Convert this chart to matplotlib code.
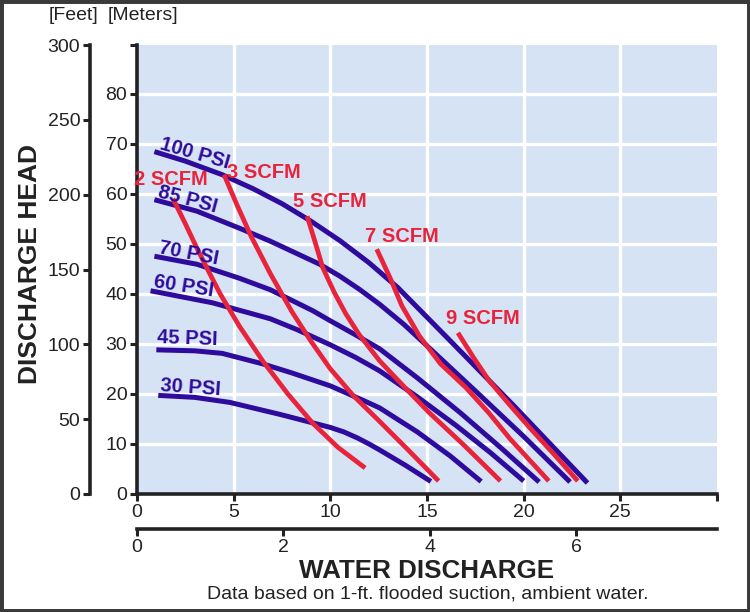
import matplotlib
matplotlib.use('Agg')
import matplotlib.pyplot as plt
from matplotlib.patches import Rectangle

plt.rcParams['font.family'] = ['Liberation Sans', 'DejaVu Sans']

BLUE = '#2e0b9c'
RED = '#e8243c'
BG = '#d6e3f4'
INK = '#222222'

# water discharge in GPM, discharge head in meters
# air inlet pressure curves
psi100_q = [0.9, 2.5, 4.4, 6.0, 7.5, 9.0, 10.5, 12.0, 13.5, 16.0, 19.5, 23.3]
psi100_h = [68.4, 66.5, 63.8, 61.0, 58.0, 54.5, 50.6, 46.2, 41.2, 31.4, 17.6, 2.2]
psi85_q = [0.9, 3.1, 5.3, 6.9, 9.45, 10.5, 11.5, 12.55, 13.8, 15.0, 17.5, 20.0, 22.4]
psi85_h = [58.8, 56.5, 53.1, 50.5, 45.9, 43.5, 40.9, 37.9, 33.9, 29.6, 20.6, 11.5, 2.4]
psi70_q = [0.9, 3.1, 5.3, 6.9, 9.1, 10.0, 11.3, 12.55, 14.5, 16.7, 18.8, 20.8]
psi70_h = [47.5, 45.9, 43.1, 40.8, 36.6, 34.6, 31.8, 29.0, 23.2, 16.3, 9.3, 2.4]
psi60_q = [0.7, 3.9, 6.9, 8.3, 10.0, 11.3, 12.55, 14.5, 16.5, 18.3, 20.0]
psi60_h = [40.6, 38.2, 35.0, 32.8, 29.8, 27.3, 24.6, 19.4, 13.7, 8.2, 2.6]
psi45_q = [1.0, 3.0, 4.4, 6.5, 8.0, 10.0, 11.7, 12.55, 14.5, 16.2, 17.8]
psi45_h = [28.8, 28.6, 28.1, 26.0, 24.2, 21.6, 18.7, 17.2, 12.4, 7.6, 2.5]
psi30_q = [1.1, 3.0, 4.8, 7.4, 10.0, 10.7, 11.4, 12.0, 12.55, 13.9, 15.2]
psi30_h = [19.7, 19.3, 18.3, 15.9, 13.3, 12.4, 11.2, 10.0, 8.8, 5.7, 2.5]

# air consumption curves
scfm2_q = [1.86, 2.5, 3.1, 3.7, 4.3, 5.3, 6.5, 7.8, 9.1, 10.4, 11.8]
scfm2_h = [59.0, 54.0, 49.1, 44.5, 40.0, 33.5, 26.6, 20.0, 14.1, 9.3, 5.2]
scfm3_q = [4.5, 5.2, 5.9, 6.9, 8.0, 9.0, 10.0, 11.2, 12.55, 14.0, 15.6]
scfm3_h = [63.8, 57.5, 51.5, 44.0, 36.5, 30.5, 25.0, 19.6, 14.5, 8.9, 2.6]
scfm5_q = [8.8, 9.2, 9.6, 10.2, 10.8, 11.5, 12.55, 13.8, 15.1, 16.9, 18.8]
scfm5_h = [55.5, 50.5, 45.3, 40.3, 36.0, 31.8, 26.6, 21.5, 16.3, 9.8, 2.6]
scfm7_q = [12.4, 13.1, 13.7, 14.6, 15.7, 17.0, 18.2, 19.3, 20.3, 21.3]
scfm7_h = [48.9, 43.1, 37.6, 31.6, 26.0, 21.3, 16.2, 11.0, 6.8, 2.6]
scfm9_q = [16.6, 17.4, 18.2, 19.3, 20.3, 21.6, 22.8]
scfm9_h = [32.2, 27.3, 22.7, 17.7, 13.3, 7.8, 2.6]

psi_names = ['100 PSI', '85 PSI', '70 PSI', '60 PSI', '45 PSI', '30 PSI']
scfm_names = ['2 SCFM', '3 SCFM', '5 SCFM', '7 SCFM', '9 SCFM']

gpm_ticks = [0, 5, 10, 15, 20, 25]
m3h_ticks = [0, 2, 4, 6]
meter_ticks = [0, 10, 20, 30, 40, 50, 60, 70, 80]
feet_ticks = [0, 50, 100, 150, 200, 250, 300]

HEAD_TOP = 89.7  # meters at top of chart = 300 ft on the chart's scale

fig = plt.figure(figsize=(7.5, 6.12), dpi=100)
ax = fig.add_axes([137/750, 1 - 494/612, 580/750, 449/612])
ax.set_facecolor(BG)
ax.set_xlim(0, 30)
ax.set_ylim(0, HEAD_TOP)

ax.set_xticks(gpm_ticks + [30])
ax.set_xticklabels([str(t) for t in gpm_ticks] + [''])
ax.set_yticks(meter_ticks + [HEAD_TOP])
ax.set_yticklabels([str(t) for t in meter_ticks] + [''])
for s in ['top', 'right']:
    ax.spines[s].set_visible(False)
for s in ['left', 'bottom']:
    ax.spines[s].set_color(INK)
    ax.spines[s].set_linewidth(2.6)
ax.tick_params(axis='both', direction='out', length=5, width=2.2, color=INK,
               labelsize=14, labelcolor=INK, pad=2)

# white grid
for g in [5, 10, 15, 20, 25]:
    ax.axvline(g, color='white', lw=2.4, zorder=1)
for g in meter_ticks[1:]:
    ax.axhline(g, color='white', lw=2.4, zorder=1)

# feet axis
feet = ax.secondary_yaxis(-47/580, functions=(lambda m: m*300/HEAD_TOP, lambda f: f*HEAD_TOP/300))
feet.set_yticks(feet_ticks)
feet.spines['left'].set_color(INK)
feet.spines['left'].set_linewidth(2.6)
feet.tick_params(direction='out', length=5, width=2.2, color=INK, labelsize=14, labelcolor=INK, pad=2)

# m3/h axis
m3h = ax.secondary_xaxis(-35/449, functions=(lambda q: q/3.785, lambda c: c*3.785))
m3h.set_xticks(m3h_ticks)
m3h.spines['bottom'].set_color(INK)
m3h.spines['bottom'].set_linewidth(2.6)
m3h.tick_params(direction='out', length=5, width=2.2, color=INK, labelsize=14, labelcolor=INK, pad=2)

psi_q = [psi100_q, psi85_q, psi70_q, psi60_q, psi45_q, psi30_q]
psi_h = [psi100_h, psi85_h, psi70_h, psi60_h, psi45_h, psi30_h]
for q, h in zip(psi_q, psi_h):
    ax.plot(q, h, color=BLUE, lw=3.6, solid_capstyle='butt', solid_joinstyle='round', zorder=3)

scfm_q = [scfm2_q, scfm3_q, scfm5_q, scfm7_q, scfm9_q]
scfm_h = [scfm2_h, scfm3_h, scfm5_h, scfm7_h, scfm9_h]
for q, h in zip(scfm_q, scfm_h):
    ax.plot(q, h, color=RED, lw=3.4, solid_capstyle='butt', solid_joinstyle='round', zorder=4)

psi_pos = [(3.0, 68.0, -16), (2.6, 58.8, -15), (2.7, 48.1, -11),
           (2.4, 41.4, -9), (2.6, 31.0, -2), (2.75, 21.3, -4)]
for name, (x, y, r) in zip(psi_names, psi_pos):
    ax.text(x, y, name, color=BLUE, fontsize=14.5, fontweight='bold', rotation=r,
            ha='center', va='center', rotation_mode='anchor', zorder=5)

scfm_pos = [(1.76, 62.8), (6.55, 64.2), (10.0, 58.4), (13.7, 51.5), (17.9, 35.0)]
for name, (x, y) in zip(scfm_names, scfm_pos):
    ax.text(x, y, name, color=RED, fontsize=14.5, fontweight='bold',
            ha='center', va='center', zorder=5)

fig.text(73/750, 1 - 16/612, '[Feet]', fontsize=14, color=INK, ha='center', va='center')
fig.text(143/750, 1 - 16/612, '[Meters]', fontsize=14, color=INK, ha='center', va='center')
fig.text(30/750, 1 - 264/612, 'DISCHARGE HEAD', fontsize=19, fontweight='bold', color=INK,
         rotation=90, ha='center', va='center')
fig.text(427/750, 1 - 571/612, 'WATER DISCHARGE', fontsize=18.7, fontweight='bold', color=INK,
         ha='center', va='center')
fig.text(428/750, 1 - 594/612, 'Data based on 1-ft. flooded suction, ambient water.',
         fontsize=14, color=INK, ha='center', va='center')

fig.patches.append(Rectangle((0, 0), 1, 1, transform=fig.transFigure, fill=False,
                             edgecolor='#3a3a3a', lw=5))

fig.savefig('out.png', dpi=100)
